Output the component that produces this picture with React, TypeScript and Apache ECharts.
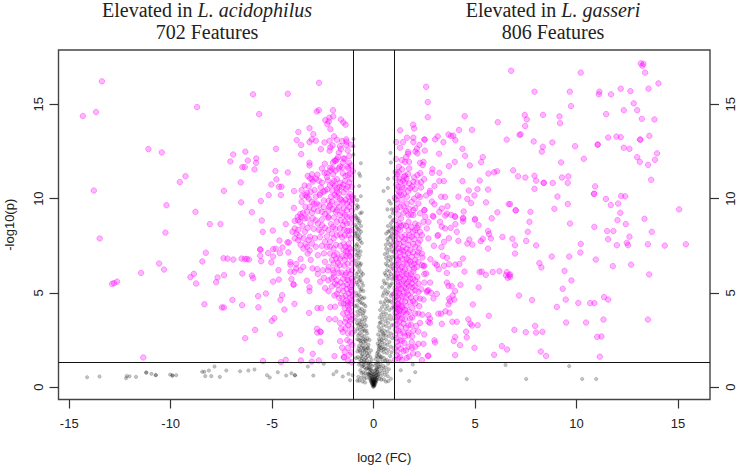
import React, { useEffect, useRef } from "react";
import * as echarts from "echarts";

const xTicks = [-15, -10, -5, 0, 5, 10, 15];
const yTicks = [0, 5, 10, 15];
const xRange = [-15.53, 16.58];
const yRange = [-0.65, 17.88];
const cutX = [-1, 1];
const cutY = 1.3;

const leftSparse = [[-13.39,16.22],[-14.33,14.38],[-13.68,14.59],[-13.79,10.43],[-8.7,14.85],[-11.1,12.63],[-10.44,12.45],[-9.27,11.19],[-9.55,10.88],[-10.21,9.65],[-8.78,9.3],[-7.38,10.41],[-6.53,9.8],[-6,9.28],[-5.56,9.87],[-6.55,10.86],[-7.06,11.97],[-6.92,12.34],[-6.32,12.49],[-6.2,12.02],[-6.47,11.67],[-6.35,11.67],[-5.87,11.55],[-5.79,11.9],[-5.78,12.13],[-5.94,15.53],[-5.64,14.48],[-4.23,15.56],[-2.69,16.14],[-4.81,12.64],[-3.57,12.36],[-4.84,11.46],[-4.23,11.39],[-4.79,11.02],[-5.04,10.75],[-4.67,10.63],[-4.54,10.63],[-5.17,10.19],[-4.57,10.19],[-3.92,10.4],[-3.93,9.51],[-3.71,13.53],[-3.79,13.1],[-3.57,12.84],[-3.16,13.74],[-2.97,13.42],[-3.16,13],[-3.05,13.14],[-2.85,13.07],[-2.8,14.62],[-2.7,14.69],[-2,14.69],[-1.99,14.36],[-13.5,7.89],[-10.26,8.2],[-8.07,8.65],[-7.55,8.65],[-5.51,8.84],[-5.46,8.24],[-4.97,8.31],[-4.33,8.65],[-8.27,7.13],[-8.44,6.67],[-7.4,6.84],[-7.2,6.82],[-6.91,6.77],[-6.51,6.82],[-6.35,6.8],[-6.25,6.8],[-6.14,6.77],[-5.59,7.3],[-5.58,7.3],[-5.59,6.97],[-5.54,6.68],[-5.2,7.11],[-4.95,7.32],[-4.82,7.34],[-4.95,6.93],[-4.62,7.11],[-5.04,6.62],[-4.64,7.78],[-4.49,7.41],[-4.25,7.68],[-4.18,7.68],[-4.2,7.15],[-4.69,6.21],[-10.57,6.56],[-10.33,6.24],[-11.46,6.06],[-12.89,5.48],[-12.79,5.52],[-12.64,5.6],[-9.03,5.84],[-8.86,6.01],[-8.75,5.5],[-7.76,5.57],[-7.69,5.82],[-7.37,5.94],[-6.47,6.03],[-6,5.92],[-5.94,5.78],[-4.95,5.6],[-4.67,5.71],[-4.05,5.73],[-3.95,5.45],[-3.94,5.44],[-8.34,4.4],[-7.48,4.23],[-7.38,4.23],[-6.96,4.63],[-6.48,4.35],[-5.68,4.24],[-5.69,4.83],[-5.31,4.97],[-4.59,4.63],[-4.51,4.88],[-3.9,4.42],[-4.4,4.12],[-4.89,3.66],[-5.02,3.52],[-5.84,3.04],[-6.33,2.6],[-4.62,2.8],[-11.35,1.58],[-5.45,1.39],[-4.57,1.33],[-4.33,1.45],[-3.56,1.97],[-3.59,1.42],[-3.05,1.36],[-3,1.77],[-2.7,1.42],[-2.62,2.41],[-2.79,3.1],[-2.78,2.9],[-2.62,2.94],[-2.61,2.94]];

const leftUpper = [[-2.38,14.16],[-2.18,14.29],[-2.21,14.09],[-2.28,13.95],[-2.13,13.68],[-1.61,14.2],[-1.49,14.04],[-1.38,13.92],[-2.42,12.98],[-2.17,13.07],[-1.81,13.12],[-1.35,13.14],[-1.34,13.02],[-1.35,12.84],[-1.12,12.86],[-2.02,12.82],[-2.13,12.72],[-2.17,12.54],[-1.66,12.78],[-1.61,12.63],[-1.71,12.45],[-1.82,12.08],[-1.87,12],[-2,11.92],[-1.48,12.13],[-1.43,12.11],[-1.51,11.92],[-1.26,11.7],[-1.66,11.7],[-1.72,11.6],[-2.03,11.6],[-2.14,11.64],[-2.14,11.48],[-1.87,11.48],[-3.16,11.9],[-3.16,11.76],[-2.42,11.37],[-1.39,11.2],[-1.27,11.25],[-1.15,11.34],[-1.02,11.46],[-1.25,11.6],[-3.25,11.2],[-3.04,11.29],[-2.77,11.27],[-3.13,11.07],[-3.02,11.02],[-2.84,11.07],[-2.29,11.14],[-2.26,10.97],[-1.81,11.03],[-2.03,10.8],[-1.92,10.69],[-1.66,10.84],[-1.49,10.75],[-1.8,10.55],[-1.07,10.63],[-1.27,10.63],[-3.55,10.45],[-3.2,10.65],[-2.91,10.45],[-2.63,10.28],[-2.47,10.37],[-2.39,10.42],[-2.28,10.49],[-2.03,10.42],[-3.28,10.31],[-3.36,10.19],[-3.28,10.1],[-3.2,10],[-3.52,10.13],[-3.55,9.83],[-2.66,10.19],[-1.8,10.38],[-1.72,10.28],[-1.81,10.1],[-2.23,9.88],[-1.48,10.33],[-1.07,10.1],[-1.15,10.24],[-1.66,10],[-1.58,9.92],[-1.24,10.1],[-3.04,9.83],[-2.93,9.74],[-2.8,9.74],[-2.67,9.65],[-3.36,9.57],[-2.14,9.65],[-2.18,9.57],[-1.81,9.74],[-1.48,9.48],[-1.31,9.74],[-1.07,9.74],[-1.81,9.39],[-2.23,9.36],[-1.66,9.13],[-1.42,9.13],[-1.31,9.39],[-1.07,9.36],[-3.28,9.3],[-3.48,9.25],[-3.61,9.18],[-3.74,9.04],[-3.04,9.25],[-2.55,9.3],[-2.39,9.18],[-2.23,9.04],[-1.87,9.3],[-1.15,9.04],[-2.6,12.62],[-1.95,13.3],[-1.55,13.05],[-1.2,12.25],[-1.52,11.35],[-1.1,11.05],[-1.93,12.02],[-1.68,10.62],[-1.2,10.85],[-2.1,10.1],[-1.5,9.8],[-1.7,9.55]];

const leftLower = [[-3.89,8.82],[-3.72,8.86],[-3.56,9.03],[-3.28,8.98],[-3.11,8.68],[-2.74,8.68],[-2.54,8.59],[-2.23,8.98],[-1.81,8.77],[-1.52,8.59],[-1.32,9.03],[-1.15,8.68],[-3.63,8.77],[-3.89,8.42],[-3.72,8.34],[-4,8.24],[-3.8,8.15],[-3.89,7.89],[-3.72,7.8],[-3.39,8.24],[-2.23,8.33],[-2.56,8.24],[-1.81,8.06],[-1.97,7.89],[-2.14,7.71],[-2.39,7.71],[-1.48,7.62],[-1.39,7.44],[-1.23,7.62],[-1.12,7.89],[-1.23,8.06],[-1.66,8.42],[-1.07,8.33],[-1.32,8.68],[-3.13,7.98],[-3.04,7.62],[-3.2,7.8],[-3.28,7.44],[-3.46,7.35],[-3.25,7.09],[-2.3,7.44],[-2.14,7.09],[-1.81,7.09],[-1.48,7.27],[-1.27,7.09],[-1.15,7.35],[-1.97,7.35],[-1.84,6.82],[-1.66,6.82],[-1.42,6.74],[-1.07,6.82],[-1.97,6.56],[-2.22,6.38],[-2.26,6.2],[-1.66,6.47],[-1.8,6.29],[-1.24,6.2],[-1.07,6.2],[-1.58,6.08],[-1.96,5.85],[-2.07,5.76],[-2.23,5.67],[-1.81,5.67],[-1.42,5.94],[-1.24,5.67],[-1.07,5.76],[-1.78,5.41],[-1.49,5.37],[-1.32,5.2],[-1.16,5.32],[-1.07,5.06],[-1.23,4.97],[-1.07,5.41],[-2,6.2],[-4.1,6.64],[-4.1,6.5],[-3.81,6.54],[-3.47,6.38],[-3.81,6.3],[-3.61,6.2],[-3.9,6.12],[-4.1,6.13],[-3.01,6.3],[-2.78,6.26],[-2.75,6.01],[-3.29,5.65],[-2.63,5.6],[-3.16,5.3],[-3.16,5.1],[-2.39,5.25],[-2.22,5.09],[-1.93,4.87],[-1.7,4.74],[-1.54,4.76],[-1.48,4.44],[-1.28,4.48],[-1.27,4.32],[-1.16,4.38],[-1.07,4.6],[-3.18,3.94],[-2.77,4.2],[-2.59,4.2],[-2.13,4.25],[-1.9,4.27],[-2.19,3.61],[-1.89,3.6],[-1.65,2.44],[-1.52,2.94],[-1.39,3.12],[-1.93,1.65],[-1.47,1.58],[-1.46,1.6],[-1.42,1.88],[-1.27,2.09],[-1.16,2.41],[-1.07,1.32],[-1.36,3.65],[-1.2,3.74],[-1.15,3.47],[-1.08,3.12],[-1.04,3.8],[-1.1,4.05],[-1.35,6.95],[-1.55,7.95],[-1.2,8.3],[-1.1,7.15],[-1.3,5.7],[-1.04,4.85]];

const leftExtra = [[-3.4,10.7],[-3,10.9],[-2.55,10.85],[-2.15,10.7],[-1.35,10.5],[-1.55,10.6],[-2.6,10.6],[-2.45,9.9],[-2.85,10.1],[-3.1,10.35],[-2.05,9.85],[-1.92,10.2],[-1.38,9.95],[-1.18,9.85],[-1.02,9.95],[-2.75,9.35],[-2.95,9.45],[-3.15,9.55],[-2.45,9.55],[-2,9.45],[-1.55,9.25],[-1.2,9.55],[-3.4,8.95],[-3,8.95],[-2.85,8.85],[-2.55,8.9],[-2.1,8.65],[-1.95,9],[-1.62,8.85],[-1.42,8.8],[-1.05,8.95],[-3.5,8.55],[-3.25,8.45],[-2.95,8.4],[-2.7,8.35],[-2.4,8.45],[-2,8.5],[-1.88,8.4],[-1.45,8.35],[-1.3,8.3],[-3.65,8],[-3.45,7.9],[-2.9,7.9],[-2.65,7.95],[-2.3,8],[-2.05,8.15],[-1.65,8.1],[-1.42,8.05],[-3.6,7.55],[-3.35,7.6],[-2.85,7.45],[-2.55,7.5],[-2.15,7.45],[-1.85,7.55],[-1.65,7.5],[-1.22,7.4],[-3.15,7.25],[-2.75,7],[-2.45,7.1],[-1.95,7],[-1.55,6.95],[-1.35,7.2],[-1.18,6.95],[-3.6,6.8],[-3.1,6.75],[-2.4,6.65],[-2.05,6.75],[-1.75,6.6],[-1.45,6.45],[-1.28,6.55],[-1.05,6.55],[-2.5,6.2],[-1.98,6.05],[-1.72,6.05],[-1.5,5.75],[-1.35,6.05],[-1.15,6],[-2.45,5.8],[-1.9,5.5],[-1.62,5.55],[-1.32,5.45],[-1.03,5.6],[-2.05,5.35],[-1.72,5.15],[-1.5,5.1],[-1.12,5.15],[-1.8,4.95],[-1.38,4.85],[-1.15,4.75],[-1.6,4.45],[-1.35,4.6],[-1.1,4.45],[-1.42,4.2],[-1.22,4.1],[-1.5,3.9],[-1.3,3.95],[-1.1,3.6],[-1.65,3.4],[-1.4,3.45],[-1.25,3.3],[-1.6,3.1],[-1.25,2.85],[-1.08,2.85],[-1.3,2.5],[-1.05,2.25],[-1.55,2.1],[-1.2,1.7],[-1.1,1.85],[-1.25,1.4],[-2.3,11.35],[-2.55,11.6],[-2.4,11.85],[-1.75,12.2],[-1.28,12.55],[-1.2,11.9],[-1.55,11.65],[-1.1,11.75],[-1.4,10.95],[-2,11.3],[-2.7,10.95],[-1.95,10.95]];

const rightInner = [[2.59,15.93],[2.67,15.12],[2.67,14.32],[4.49,14.37],[6.12,14.05],[1.95,13.92],[2,13.72],[1.31,13.62],[4.21,13.64],[4.85,13.64],[3.69,13.4],[3.82,13.32],[3.93,13.34],[4.03,13.1],[3.16,13.3],[3.03,13.14],[3.44,13],[1.65,13.23],[1.96,13.23],[2.5,13.13],[2.52,13.13],[1.96,13],[2.26,12.85],[1.11,13],[6.56,13.13],[7.19,13.38],[2.13,12.65],[2.06,12.5],[1.7,12.48],[1.7,12.38],[2.16,12.4],[2.52,12.55],[4.38,12.64],[4.51,12.27],[3.23,12.38],[5.38,12.2],[5.3,11.94],[4,11.95],[3.71,11.72],[4.74,11.76],[1.39,12.04],[1.55,11.95],[1.24,11.69],[1.75,11.95],[1.75,11.6],[2.29,11.9],[2.46,11.95],[2.42,11.78],[2.9,11.56],[2.88,11.37],[3.24,11.37],[1.09,11.42],[1.15,11.3],[1.24,11.39],[1.5,11.16],[1.55,11.23],[1.44,10.95],[1.3,10.89],[2,11.13],[1.96,10.89],[2.16,11.25],[2.49,11.03],[2.34,10.87],[2.34,10.59],[1.8,10.55],[2.05,10.5],[1.49,10.55],[1.22,10.63],[1.27,10.33],[1.5,10.24],[1.64,10.1],[2.78,10.42],[2.77,10.31],[3,10.67],[3.24,10.93],[3.46,10.93],[4.38,10.93],[5.23,10.96],[5.12,10.5],[4.97,10.17],[4.69,10.43],[5.66,11.33],[5.94,11.4],[6.09,11.45],[6.88,11.5],[7.12,11.18],[5.64,10.48],[4.18,10.1],[4.62,9.98],[4.81,9.76],[5.54,9.8],[3.33,10.1],[3.52,10.09],[2.18,10.17],[2.29,10.09],[2.59,10.17],[2.87,9.85],[3,9.7],[3.64,9.6],[3.36,9.48],[3.24,9.3],[6.66,9.71],[7,9.38],[6.1,9.27],[5.82,8.96],[4.44,9.32],[4,9.07],[4.41,8.98],[5,8.93],[2.92,9.08],[3.61,9.2],[3.82,9.14],[1.06,9.39],[1.17,9.74],[1.39,9.92],[1.63,9.74],[1.88,9.83],[2.21,9.74],[2.5,9.39],[2.51,9.39],[1.96,9.39],[1.72,9.13],[2.29,9.22],[1.96,9.13],[2.54,9.04],[1.35,8.95],[1.47,9.6],[1.2,10.15],[1.1,9.95],[1.4,10.6],[1.75,10.8],[1.12,10.75],[1.62,11.05]];

const rightDense = [[1.14,8.6],[1.27,8.68],[1.47,8.59],[1.72,8.77],[2.05,8.68],[2.21,8.59],[1.72,8.33],[1.14,8.15],[1.39,7.98],[2.05,8.33],[2.29,8.24],[2.46,8.77],[2.7,8.77],[2.62,8.42],[2.13,8.06],[2.38,8.06],[1.88,7.98],[1.72,7.8],[1.14,7.62],[1.22,7.35],[1.39,7.27],[1.63,7.35],[1.8,7.27],[2.05,7.44],[1.47,7.71],[1.06,7.18],[1.3,6.92],[1.55,7],[1.88,6.92],[2.05,6.74],[1.72,6.74],[1.14,6.83],[1.14,6.47],[1.39,6.38],[1.63,6.56],[1.88,6.47],[2.13,6.38],[1.22,6.2],[1.47,6.12],[1.72,5.94],[1.96,6.12],[1.06,5.94],[1.3,5.85],[1.55,5.76],[1.14,5.59],[1.39,5.5],[1.63,5.5],[1.88,5.5],[2.05,5.14],[2.21,5.06],[1.88,5.06],[1.63,5.06],[2.29,4.7],[2.46,4.65],[1.8,4.52],[2.05,4.44],[1.22,5.23],[1.06,4.97],[1.14,4.8],[1.3,4.88],[1.06,4.62],[1.22,4.44],[1.06,4.17],[1.14,4],[1.06,3.73],[1.22,3.82],[1.47,4],[1.63,3.91],[2.05,3.91],[2.21,3.91],[1.8,3.64],[1.47,3.38],[1.72,3.29],[2.29,3.41],[2.7,3.82],[2.78,3.64],[2.7,3.47],[2.78,3.41],[1.22,3],[1.47,2.9],[1.72,2.9],[1.72,2.76],[1.96,3],[2.5,2.8],[1.3,2.5],[1.39,2.46],[1.72,2.14],[1.88,2.4],[2.05,2.14],[2.21,2.3],[2.46,2.3],[1.47,1.92],[1.88,2.1],[2.18,1.75],[2.7,1.68],[2.67,1.65],[1.3,1.62],[1.39,1.44],[1.63,1.56],[2.38,1.44],[3,2.49],[3.03,2.37],[1.14,1.7],[1.22,1.53],[1.06,2.05],[1.14,2.41],[1.06,2.76],[1.06,3.29],[2.21,6.65],[2.38,6.47],[2.59,6.03],[1.8,5.76],[2.05,5.67],[2.21,5.5],[2.62,5.06],[2.7,5.14],[1.55,8.06],[1.06,7.8],[1.06,8.42],[1.3,8.33],[2.29,7.8],[2.13,7],[1.05,6.5],[1.08,5.25],[1.1,4.3],[1.18,4.15],[1.27,4.05],[1.35,4.32],[1.12,3.55],[1.4,3.65],[1.08,5.75],[1.25,5.55],[1.48,5.05],[1.1,6.95],[1.7,4.9]];

const rightExtra = [[1.05,8.85],[1.2,8.4],[1.35,8.55],[1.6,8.55],[1.85,8.5],[1.95,8.25],[2.15,8.45],[1.08,8.05],[1.25,7.85],[1.55,7.85],[1.75,8.05],[2,7.85],[2.2,7.65],[1.05,7.5],[1.28,7.6],[1.45,7.45],[1.72,7.55],[1.95,7.6],[2.25,7.35],[1.1,7.3],[1.3,7.15],[1.48,7.2],[1.7,7.1],[1.95,7.15],[2.2,7.15],[1.2,6.75],[1.42,6.8],[1.62,6.82],[1.8,6.65],[2,6.55],[1.22,6.55],[1.48,6.55],[1.75,6.3],[2,6.3],[1.05,6.25],[1.3,6.25],[1.55,6.25],[1.15,6],[1.42,5.95],[1.62,6],[1.85,6],[2.15,5.85],[1.08,5.85],[1.25,5.8],[1.48,5.65],[1.72,5.6],[1.95,5.75],[1.22,5.4],[1.5,5.35],[1.75,5.35],[2.05,5.35],[2.35,5.2],[1.1,5.1],[1.35,5.2],[1.6,5.25],[1.9,5.3],[1.25,5],[1.42,4.82],[1.6,4.75],[1.85,4.75],[2.1,4.75],[1.05,4.75],[1.2,4.65],[1.38,4.55],[1.55,4.55],[1.95,4.55],[1.18,4.4],[1.42,4.25],[1.62,4.3],[1.9,4.2],[2.25,4.3],[1.05,4.3],[1.3,4.15],[1.55,4.1],[1.75,4],[1.08,3.95],[1.35,3.85],[1.9,3.7],[2.4,3.85],[1.15,3.7],[1.28,3.5],[1.55,3.6],[1.15,3.35],[1.35,3.2],[1.6,3.15],[1.85,3.3],[2.1,3.25],[1.1,3.05],[1.3,2.85],[1.55,2.7],[1.9,2.7],[2.2,2.95],[1.12,2.6],[1.52,2.35],[1.2,2.2],[1.35,2.05],[1.6,1.95],[1.95,1.8],[1.15,1.9],[1.75,1.62],[1.05,1.45],[1.06,8.2],[1.22,9.15],[1.48,9.25],[1.15,9.45],[1.75,9.45],[2.05,9.5],[1.32,9.55],[1.6,9.35],[1.85,9.15],[1.05,10.05],[1.35,10.2],[1.7,10.4],[2,10],[1.18,10.45],[1.55,10.85],[1.9,10.65],[1.28,11.05],[1.7,11.3],[2.15,10.85],[1.08,11.1],[1.4,11.55],[1.1,12.1],[1.6,12.2],[1.3,12.7],[2.3,11.35],[1.45,13]];

const rightMid = [[2.38,7.09],[2.41,6.88],[2.5,6.45],[2.46,6.42],[2.97,7.5],[3.34,7.43],[3.71,7.9],[3.47,7.71],[4.18,7.76],[4.62,7.62],[4.72,7.83],[4.87,7.56],[5.28,7.74],[5.38,7.87],[5.64,7.35],[5.64,8.28],[5.69,8.12],[5.78,7.89],[6.35,7.97],[5.17,8.59],[4.99,8.87],[4.41,8.94],[4.41,8.79],[4.1,8.24],[4.03,8.65],[3.8,8.45],[3.52,8.42],[3.36,8.52],[3.15,8.03],[3.18,8.07],[2.7,7.89],[3.53,9.1],[4.02,9.03],[3.27,8.77],[2.95,9.04],[6.57,6.1],[6.68,5.94],[6.61,5.8],[6.52,5.94],[5.87,6.11],[6.2,6.15],[5.22,6.11],[5.33,6.13],[5.53,5.96],[5.18,5.29],[4.48,6.13],[4.89,4.39],[5.68,3.79],[5.13,3.29],[4.67,3.6],[4.77,3.37],[4.85,3.27],[4.56,2.95],[4.59,2.64],[4.97,2.09],[5.94,1.72],[6.32,2.18],[6.58,2],[4.02,1.7],[4.26,2.23],[4.02,2.66],[3.95,2.45],[3.88,3.47],[4.1,3.47],[3.36,3.36],[3.19,3.9],[3.33,3.9],[3.54,4.03],[3.74,3.95],[3.69,4.39],[3.77,4.56],[3.72,4.7],[3.98,4.65],[3.9,4.86],[4.02,5.09],[3.85,5.36],[3.61,5.55],[3.69,5.37],[4.28,5.43],[3.12,4.95],[2.83,5],[2.65,5.11],[2.95,4.71],[2.5,5.55],[2.79,5.55],[2.5,6],[3.61,6.06],[3.72,6.52],[4.02,6.5],[4.23,6.54],[4.4,6.82],[3.41,6.97],[3.61,6.86],[3.12,6.48],[3.03,6.56],[3.47,6.44],[3.21,6.26],[2.8,6.79]];

const rightOuter = [[13.17,17.17],[13.3,17.15],[13.25,17.05],[6.78,16.78],[10.21,16.68],[13.38,16.68],[14.04,16.11],[13.55,15.83],[12.66,15.7],[12.18,15.83],[11.7,15.53],[11.13,15.67],[11.1,15.53],[9.67,15.67],[7.93,15.67],[9.73,14.91],[12.82,15.05],[12.33,14.69],[12.99,14.69],[11.46,14.48],[13.22,14.23],[13.84,14.2],[7.45,14.44],[7.55,14.2],[8.35,14.44],[9.16,14.36],[9.19,14],[7.47,13.85],[7.25,13.41],[7.89,13.03],[8.81,12.98],[8.34,12.75],[8.29,12.49],[9.93,12.78],[11.05,12.87],[11.04,12.86],[11.56,13.24],[11.97,13.29],[12.18,13.26],[13.15,13.13],[13.13,13.13],[13.59,13.33],[12.33,12.7],[12.61,12.64],[12.99,12.2],[13.12,11.95],[10.36,12.11],[13.97,12.4],[13.87,12.06],[13.53,11.79],[9.24,11.92],[13.68,11],[7.48,11.12],[7.93,11.21],[8.01,10.95],[8.39,10.83],[8.38,10.84],[8.83,10.83],[9.28,11.12],[9.6,11.18],[9.57,10.83],[7.93,10.52],[10.92,10.65],[10.87,10.25],[10.86,10.26],[9.06,10.11],[11.45,9.98],[12.2,10.14],[12.4,10.12],[12.05,9.74],[11.69,9.66],[9.57,9.72],[8.91,9.46],[7.01,9.38],[7.73,9.3],[12.16,9.25],[15.06,9.43],[13.35,8.93],[12.02,8.86],[6.73,9.71],[7.68,8.77],[9.68,8.68],[7.6,8.24],[10.88,8.5],[12.43,8.65],[11.51,8.28],[11.82,8.28],[13.71,8.24],[12.61,7.98],[11.56,7.85],[12.48,7.66],[12.54,7.53],[11.99,7.53],[13.52,7.58],[14.35,7.51],[15.39,7.58],[6.84,7.87],[7.52,7.76],[6.97,7.53],[8.01,7.52],[10.21,7.6],[6.97,7.09],[10.19,7.14],[8.78,6.93],[9.64,6.93],[10.95,6.77],[8.17,6.58],[8.27,6.35],[11.79,6.42],[12.69,6.5],[9.41,6.17],[13.58,5.98],[6.73,5.98],[6.73,5.85],[9.75,5.66],[9.32,5.22],[7.17,4.86],[7.81,4.62],[9.47,4.65],[11.36,4.78],[11.56,4.65],[10.09,4.47],[10.67,4.46],[10.88,4.46],[9.03,4.26],[11.33,3.59],[13.52,3.59],[9.49,3.43],[10.47,3.43],[7.96,3.25],[6.94,3.04],[7.5,2.92],[8.01,2.9],[8.32,2.94],[11.02,2.67],[11.23,2.69],[8.24,1.89],[8.5,1.66],[11.15,1.62]];

const grayFar = [[-14.12,0.53],[-13.51,0.57],[-12.2,0.48],[-12.17,0.6],[-12.03,0.58],[-11.71,0.55],[-11.21,0.78],[-11.2,0.78],[-10.95,0.71],[-10.74,0.64],[-10.73,0.65],[-10.03,0.67],[-9.92,0.62],[-9.91,0.62],[-9.73,0.64],[-8.45,0.82],[-8.34,0.82],[-8.12,0.89],[-7.84,1.1],[-7.26,0.89],[-8.3,0.59],[-8,0.59],[-7.58,0.55],[-6.58,0.85],[-6.17,0.89],[-5.87,0.94],[-5.25,0.64],[-5.12,0.52],[-4.72,0.79],[-4.31,0.62],[-4.05,0.74],[-3.88,0.64],[-3.87,0.63],[-2.97,0.62],[-3.24,1.1],[-2.46,1.25],[-1.98,0.69],[-1.83,0.83],[-1.52,0.57],[-1.24,0.71],[-1.16,0.37],[-1.04,0.64],[1.34,0.9],[1.93,1.2],[2.05,0.8],[1.75,0.33],[4.59,0.44],[6.5,1.18],[9.64,1.12],[7.52,0.44],[10.28,0.44],[10.97,0.44]];

const grayUpper = [[-0.99,13.16],[-0.99,12.78],[-0.99,12.34],[-0.63,11.88],[-0.71,11.33],[-0.66,11.2],[-0.71,10.67],[-0.63,10.13],[-0.8,9.92],[-0.83,9.48],[-0.75,9.57],[-0.66,9.22],[-0.58,9.27],[0.83,12.43],[0.85,11.92],[0.71,11.05],[0.49,10.41],[0.7,10.57],[0.76,9.88],[0.85,9.74],[0.68,9.43],[0.9,9.43],[0.95,9.22],[0.81,9.04],[-0.95,10.1],[-0.9,9.1],[-0.82,9.65]];

const grayLeftArm = [[-0.85,9],[-0.8,8.85],[-0.72,8.7],[-0.9,8.6],[-0.62,8.55],[-0.78,8.4],[-0.85,8.2],[-0.7,8.1],[-0.88,8],[-0.76,7.85],[-0.66,7.75],[-0.82,7.6],[-0.72,7.45],[-0.9,7.3],[-0.8,7.1],[-0.68,7],[-0.74,6.85],[-0.88,6.7],[-0.62,6.55],[-0.8,6.4],[-0.7,6.25],[-0.6,6.1],[-0.85,6],[-0.75,5.85],[-0.66,5.7],[-0.58,5.55],[-0.78,5.45],[-0.7,5.3],[-0.6,5.2],[-0.5,5.1],[-0.85,5],[-0.72,4.9],[-0.62,4.8],[-0.55,4.7],[-0.78,4.6],[-0.66,4.5],[-0.48,4.4],[-0.9,4.3],[-0.72,4.2],[-0.58,4.15],[-0.45,4.05],[-0.8,4],[-0.65,3.9],[-0.52,3.8],[-0.38,3.7],[-0.88,3.6],[-0.7,3.55],[-0.6,3.45],[-0.45,3.35],[-0.75,3.3],[-0.62,3.2],[-0.5,3.1],[-0.35,3],[-0.9,2.95],[-0.7,2.85],[-0.58,2.75],[-0.45,2.7],[-0.3,2.6],[-0.8,2.55],[-0.65,2.45],[-0.52,2.4],[-0.4,2.3],[-0.25,2.25],[-0.72,2.2],[-0.6,2.1],[-0.48,2.05],[-0.35,1.95],[-0.8,1.9],[-0.65,1.85],[-0.55,1.75],[-0.42,1.7],[-0.28,1.65],[-0.88,1.55],[-0.7,1.5],[-0.6,1.42],[-0.5,1.35],[-0.38,1.3],[-0.25,1.25],[-0.72,1.2],[-0.58,1.1],[-0.45,1.05],[-0.32,1],[-0.22,0.95],[-0.66,0.9],[-0.52,0.8],[-0.4,0.75],[-0.3,0.7],[-0.75,0.55],[-0.6,0.5],[-0.45,0.45],[-0.8,0.35],[-0.55,0.3],[-0.68,3.05],[-0.55,2.95],[-0.62,2.6],[-0.42,2.5],[-0.55,2.2],[-0.68,1.95],[-0.45,1.9],[-0.56,1.55],[-0.33,1.45],[-0.48,1.2]];

const grayLeftMore = [[-0.77,8.95],[-0.68,8.8],[-0.84,8.5],[-0.72,8.35],[-0.62,8.25],[-0.9,8.15],[-0.78,8],[-0.68,7.9],[-0.58,7.65],[-0.86,7.5],[-0.76,7.25],[-0.64,7.2],[-0.85,7],[-0.72,6.6],[-0.84,6.5],[-0.66,6.45],[-0.76,6.1],[-0.52,6],[-0.92,5.8],[-0.62,5.9],[-0.72,5.65],[-0.84,5.55],[-0.52,5.4],[-0.65,5.1],[-0.8,4.85],[-0.45,4.75],[-0.7,4.65],[-0.58,4.45],[-0.82,4.35],[-0.4,4.3],[-0.66,4.05],[-0.5,3.95],[-0.78,3.8],[-0.42,3.55],[-0.55,3.6],[-0.82,3.4],[-0.36,3.25],[-0.55,3.25],[-0.68,3.35],[-0.8,3.1],[-0.44,3],[-0.32,2.85],[-0.76,2.75],[-0.5,2.55],[-0.36,2.45],[-0.72,2.5],[-0.28,2.1],[-0.62,2.35],[-0.42,2.1],[-0.74,2.05],[-0.52,1.95],[-0.32,1.8],[-0.6,1.65],[-0.38,1.55],[-0.78,1.6],[-0.46,1.45],[-0.66,1.3],[-0.28,1.15],[-0.52,1.15],[-0.38,0.95],[-0.6,0.75],[-0.24,0.72],[-0.48,0.62],[-0.34,0.5],[-0.7,0.35],[-0.42,0.25]];

const grayRightArm = [[0.95,8.85],[0.85,8.7],[0.7,8.55],[0.92,8.4],[0.78,8.3],[0.62,8.15],[0.85,8],[0.95,7.85],[0.72,7.7],[0.6,7.55],[0.88,7.45],[0.78,7.3],[0.68,7.15],[0.55,7.05],[0.9,6.9],[0.72,6.7],[0.6,6.55],[0.82,6.4],[0.94,6.3],[0.66,6.2],[0.55,6.05],[0.75,5.9],[0.9,5.75],[0.5,5.65],[0.66,5.5],[0.82,5.4],[0.42,5.3],[0.58,5.15],[0.72,5.05],[0.92,4.95],[0.45,4.85],[0.62,4.7],[0.78,4.6],[0.35,4.5],[0.52,4.4],[0.68,4.3],[0.9,4.2],[0.32,4.1],[0.48,3.98],[0.62,3.9],[0.8,3.8],[0.3,3.7],[0.42,3.6],[0.58,3.5],[0.72,3.42],[0.9,3.3],[0.25,3.2],[0.4,3.12],[0.55,3],[0.7,2.95],[0.85,2.85],[0.22,2.8],[0.34,2.7],[0.48,2.6],[0.62,2.52],[0.78,2.4],[0.2,2.32],[0.32,2.25],[0.44,2.15],[0.58,2.05],[0.72,1.98],[0.88,1.85],[0.18,1.8],[0.28,1.72],[0.4,1.62],[0.52,1.55],[0.66,1.45],[0.8,1.38],[0.22,1.3],[0.34,1.22],[0.48,1.12],[0.6,1.05],[0.75,0.95],[0.18,0.95],[0.3,0.85],[0.42,0.75],[0.55,0.66],[0.7,0.58],[0.85,0.45],[0.38,0.4],[0.6,0.3],[0.3,3.4],[0.4,2.95],[0.5,2.8],[0.3,2.45],[0.42,2.38],[0.55,2.3],[0.25,2],[0.38,1.95],[0.5,1.85],[0.33,1.5],[0.45,1.38]];

const grayRightMore = [[0.88,8.5],[0.72,8.25],[0.9,8.15],[0.8,7.95],[0.68,7.85],[0.92,7.65],[0.8,7.55],[0.62,7.35],[0.92,7.2],[0.74,6.95],[0.62,6.85],[0.84,6.75],[0.68,6.45],[0.9,6.55],[0.78,6.15],[0.6,5.95],[0.86,6],[0.7,5.75],[0.54,5.5],[0.9,5.5],[0.75,5.3],[0.5,5],[0.65,4.95],[0.85,4.85],[0.56,4.55],[0.72,4.55],[0.9,4.5],[0.42,4.25],[0.6,4.15],[0.78,4.1],[0.38,3.85],[0.52,3.75],[0.68,3.65],[0.86,3.6],[0.35,3.45],[0.48,3.3],[0.62,3.25],[0.78,3.15],[0.3,3],[0.46,2.85],[0.6,2.75],[0.75,2.7],[0.92,2.6],[0.26,2.55],[0.4,2.5],[0.68,2.25],[0.85,2.15],[0.26,2.2],[0.38,2.08],[0.52,2.02],[0.66,1.8],[0.82,1.65],[0.22,1.6],[0.34,1.6],[0.58,1.4],[0.72,1.25],[0.28,1.1],[0.4,1],[0.52,0.9],[0.65,0.8],[0.24,0.7],[0.36,0.58],[0.5,0.42],[0.72,0.32],[0.28,0.45]];

const grayBase = [[-0.02,0.02],[0.02,0.05],[0,0.08],[-0.04,0.1],[0.04,0.1],[-0.02,0.14],[0.02,0.16],[0.07,0.15],[-0.07,0.16],[0,0.2],[-0.05,0.22],[0.05,0.22],[-0.1,0.24],[0.1,0.24],[-0.02,0.26],[0.02,0.28],[0.08,0.3],[-0.08,0.3],[-0.13,0.3],[0.13,0.32],[0,0.34],[-0.05,0.36],[0.05,0.36],[-0.11,0.38],[0.11,0.38],[-0.16,0.4],[0.16,0.4],[-0.02,0.42],[0.03,0.44],[-0.08,0.46],[0.08,0.46],[-0.14,0.48],[0.14,0.5],[-0.19,0.5],[0.19,0.52],[0,0.54],[-0.05,0.56],[0.06,0.56],[-0.11,0.6],[0.11,0.6],[-0.17,0.62],[0.17,0.64],[-0.23,0.64],[0.23,0.66],[-0.02,0.68],[0.03,0.7],[-0.08,0.72],[0.08,0.74],[-0.14,0.76],[0.14,0.78],[-0.2,0.8],[0.2,0.82],[-0.06,0.86],[0.06,0.88],[-0.12,0.92],[0.12,0.94],[-0.17,0.98],[0.16,1.02],[-0.24,1.05],[0.24,1.08],[-0.08,1.12],[0.08,1.16],[-0.14,1.2],[0.14,1.24],[-0.2,1.32],[0.2,1.36],[-0.1,1.45],[0.1,1.5],[-0.16,1.6],[0.15,1.66],[-0.22,1.8],[0.22,1.88],[-0.13,1.95],[-0.28,2.05],[0.27,2.1],[-0.2,2.5]];

const magenta = [...leftSparse, ...leftUpper, ...leftLower, ...leftExtra, ...rightInner, ...rightDense, ...rightExtra, ...rightMid, ...rightOuter];
const gray = [...grayFar, ...grayUpper, ...grayLeftArm, ...grayLeftMore, ...grayRightArm, ...grayRightMore, ...grayBase];

const tickLine = { show: true, length: 9, inside: false, lineStyle: { color: "#333", width: 1.2 } };

export default function App() {
  const ref = useRef<HTMLDivElement>(null);
  useEffect(() => {
    document.body.style.margin = "0";
    const chart = echarts.init(ref.current!, undefined, { renderer: "svg" });
    const sans = "Liberation Sans";
    const serif = "Liberation Serif";
    const headline = (text: string, left: number, top: number, italicPart?: string) => ({
      text: italicPart ? `{r|${text}}{i|${italicPart}}` : text,
      left,
      top,
      textAlign: "center" as const,
      padding: 0,
      textStyle: {
        fontFamily: serif,
        fontSize: 20,
        lineHeight: 20,
        fontWeight: "normal" as const,
        color: "#222",
        rich: {
          r: { fontFamily: serif, fontSize: 20, lineHeight: 20, color: "#222" },
          i: { fontFamily: serif, fontSize: 20, lineHeight: 20, fontStyle: "italic" as const, color: "#222" },
        },
      },
    });
    const yAxisBase = {
      type: "value" as const,
      min: yRange[0],
      max: yRange[1],
      splitLine: { show: false },
      axisLine: { show: false, onZero: false },
      axisTick: { ...tickLine, customValues: yTicks },
      axisLabel: {
        customValues: yTicks,
        rotate: 90,
        margin: 14,
        fontFamily: sans,
        fontSize: 13,
        color: "#222",
      },
    };
    chart.setOption({
      animation: false,
      backgroundColor: "#fff",
      title: [
        headline("Elevated in ", 207, 0, "L. acidophilus"),
        headline("702 Features", 207, 22),
        headline("Elevated in ", 553, 0, "L. gasseri"),
        headline("806 Features", 553, 22),
      ],
      grid: { left: 58.5, top: 50, width: 651.5, height: 349.5, outerBoundsMode: "none", containLabel: false, show: true, borderColor: "#444", borderWidth: 1.4, backgroundColor: "transparent" },
      xAxis: {
        type: "value",
        min: xRange[0],
        max: xRange[1],
        splitLine: { show: false },
        axisLine: { show: false, onZero: false },
        axisTick: { ...tickLine, customValues: xTicks },
        axisLabel: { customValues: xTicks, margin: 17, fontFamily: sans, fontSize: 13, color: "#222" },
        name: "log2 (FC)",
        nameLocation: "middle",
        nameGap: 51,
        nameTextStyle: { fontFamily: sans, fontSize: 13, color: "#222" },
      },
      yAxis: [
        {
          ...yAxisBase,
          position: "left",
          name: "-log10(p)",
          nameLocation: "middle",
          nameGap: 43,
          nameTextStyle: { fontFamily: sans, fontSize: 13, color: "#222" },
        },
        { ...yAxisBase, position: "right" },
      ],
      series: [
        {
          type: "scatter",
          name: "Not significant",
          data: gray,
          symbolSize: 3.5,
          itemStyle: { color: "rgba(0,0,0,0.3)", borderColor: "rgba(0,0,0,0.32)", borderWidth: 0.5 },
          silent: true,
          z: 2,
        },
        {
          type: "scatter",
          name: "Significant",
          data: magenta,
          symbolSize: 5.5,
          itemStyle: { color: "rgba(255,0,255,0.36)", borderColor: "rgba(255,0,255,0.42)", borderWidth: 1 },
          silent: true,
          z: 3,
        },
        {
          type: "scatter",
          data: [],
          silent: true,
          z: 5,
          markLine: {
            silent: true,
            symbol: "none",
            animation: false,
            label: { show: false },
            lineStyle: { color: "#111", width: 1, type: "solid" },
            data: [{ xAxis: cutX[0] }, { xAxis: cutX[1] }, { yAxis: cutY }],
          },
        },
      ],
    });
    return () => chart.dispose();
  }, []);
  return <div ref={ref} style={{ width: 740, height: 465 }} />;
}
